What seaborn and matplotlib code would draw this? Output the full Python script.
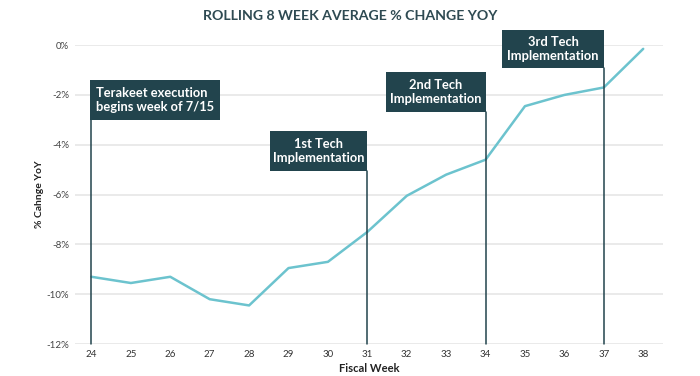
import matplotlib
matplotlib.use("Agg")
import matplotlib.pyplot as plt
from matplotlib.patches import Rectangle
import seaborn as sns
import pandas as pd

title = "ROLLING 8 WEEK AVERAGE % CHANGE YOY"
weeks = [24, 25, 26, 27, 28, 29, 30, 31, 32, 33, 34, 35, 36, 37, 38]
pct_change = [-9.3, -9.55, -9.3, -10.2, -10.45, -8.95, -8.7, -7.5, -6.05, -5.2, -4.6, -2.45, -2.0, -1.7, -0.15]
yticks = [0, -2, -4, -6, -8, -10, -12]
event_weeks = [24, 31, 34, 37]
event_labels = ["Terakeet execution\nbegins week of 7/15", "1st Tech\nImplementation",
                "2nd Tech\nImplementation", "3rd Tech\nImplementation"]
# box extents (data units): top, bottom, x-left, x-right
box_tops = [-1.4, -3.45, -1.08, 0.6]
box_bottoms = [-3.0, -5.06, -2.69, -0.92]
box_lefts = [23.97, 28.53, 31.47, 34.42]
box_rights = [27.25, 31.0, 34.0, 37.0]
box_align = ["left", "center", "center", "center"]

sns.set_style("white")
plt.rcParams["font.family"] = ["Lato", "DejaVu Sans"]

df = pd.DataFrame({"week": weeks, "pct": pct_change})

fig = plt.figure(figsize=(7, 3.76), dpi=100)
ax = fig.add_axes([0.107, 0.085, 0.84, 0.795])

ax.set_xlim(23.58, 38.5)
ax.set_ylim(-12, 0)
for t in yticks:
    ax.axhline(t, color="#e8e8e8", lw=1.3, zorder=0)

sns.lineplot(data=df, x="week", y="pct", ax=ax, color="#6cc3ce", lw=1.8, zorder=3)

dark = "#22444d"
for wk, lab, top, bot, xl, xr, al in zip(event_weeks, event_labels, box_tops, box_bottoms,
                                         box_lefts, box_rights, box_align):
    ax.plot([wk, wk], [-12, bot], color=dark, lw=1.1, zorder=4, clip_on=False)
    ax.add_patch(Rectangle((xl, bot), xr - xl, top - bot, facecolor=dark, edgecolor="none",
                           zorder=5, clip_on=False))
    ax.text((xl + xr) / 2, (top + bot) / 2, lab, ha="center", va="center", color="white",
            fontsize=9.3, fontweight="bold", zorder=6, linespacing=1.25, clip_on=False,
            multialignment="left" if al == "left" else "center")

ax.set_xticks(weeks)
ax.set_xticklabels([str(w) for w in weeks], fontsize=7, color="#333333")
ax.set_yticks(yticks)
ax.set_yticklabels([f"{t}%" for t in yticks], fontsize=7, color="#444444")
ax.tick_params(axis="both", length=0, pad=4)
for s in ax.spines.values():
    s.set_visible(False)

ax.set_xlabel("Fiscal Week", fontsize=8, fontweight="bold", color="#222222", labelpad=3)
ax.set_ylabel("% Cahnge YoY", fontsize=7.5, fontweight="bold", color="#222222", labelpad=2)

fig.text(0.5, 0.958, title, ha="center", va="center", fontsize=10.2, fontweight="bold",
         color="#2e4a52")

fig.savefig("out.png", dpi=100)
